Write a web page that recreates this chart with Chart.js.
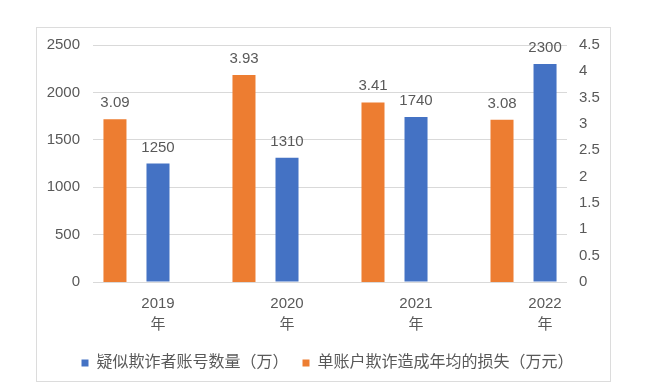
<!DOCTYPE html>
<html>
<head>
<meta charset="utf-8">
<script src="https://cdn.jsdelivr.net/npm/chart.js@4"></script>
<style>
	body { margin: 0; background: #fff; }
	#box {
		position: absolute; left: 36px; top: 27px;
		width: 575px; height: 355px;
		border: 1px solid #dcdcdc; box-sizing: border-box;
	}
</style>
</head>
<body>
<div id="box"><canvas id="fraud_chart"></canvas></div>
<script>
var years = ['2019年', '2020年', '2021年', '2022年'];
var accountCount = [1250, 1310, 1740, 2300];   // 万
var avgLoss = [3.09, 3.93, 3.41, 3.08];        // 万元
var leftTicks = [0, 500, 1000, 1500, 2000, 2500];
var rightTicks = [0, 0.5, 1, 1.5, 2, 2.5, 3, 3.5, 4, 4.5];

var FONT = "'Liberation Sans', 'Noto Sans CJK SC', sans-serif";
var TEXT_COLOR = '#595959';

Chart.defaults.font.family = FONT;
Chart.defaults.font.size = 15;
Chart.defaults.color = TEXT_COLOR;

/* value labels over the bars */
var barValueLabels = {
	id: 'barValueLabels',
	afterDatasetsDraw: function (chart) {
		var ctx = chart.ctx;
		ctx.save();
		ctx.font = '15px ' + FONT;
		ctx.fillStyle = TEXT_COLOR;
		ctx.textAlign = 'center';
		ctx.textBaseline = 'alphabetic';
		chart.data.datasets.forEach(function (ds, di) {
			var meta = chart.getDatasetMeta(di);
			meta.data.forEach(function (bar, i) {
				var v = ds.data[i].y;
				var txt = di === 0 ? v.toFixed(2) : String(v);
				ctx.fillText(txt, bar.x, bar.y - 12);
			});
		});
		ctx.restore();
	}
};

function toPoints(arr) {
	return arr.map(function (v, i) { return { x: i, y: v }; });
}

function noAxisPadding(scale) {
	scale.paddingTop = 0;
	scale.paddingBottom = 0;
}

const fraud_chart = document.getElementById('fraud_chart');

var FraudChart = new Chart(fraud_chart, {
	type: 'bar',
	data: {
		datasets: [{
			label: '单账户欺诈造成年均的损失（万元）',
			data: toPoints(avgLoss),
			yAxisID: 'y1',
			backgroundColor: '#ED7D31',
			categoryPercentage: 0.667,
			barPercentage: 0.535
		}, {
			label: '疑似欺诈者账号数量（万）',
			data: toPoints(accountCount),
			yAxisID: 'y',
			backgroundColor: '#4472C4',
			categoryPercentage: 0.667,
			barPercentage: 0.535
		}]
	},
	options: {
		responsive: true,
		maintainAspectRatio: false,
		animation: false,
		layout: {
			padding: { top: 17, right: 0, bottom: 0, left: 8 }
		},
		scales: {
			x: {
				type: 'linear',
				offset: false,
				min: -0.337,
				max: 3.337,
				grid: { display: false, drawTicks: false, offset: false },
				border: { display: false },
				afterBuildTicks: function (scale) {
					scale.ticks = years.map(function (y, i) { return { value: i }; });
				},
				afterFit: function (scale) { scale.height = 59; },
				ticks: {
					autoSkip: false,
					maxRotation: 0,
					padding: 11,
					labelOffset: 21.5,
					font: { size: 15, lineHeight: 1.4 },
					callback: function (value) {
						var t = years[value];
						return t ? [t.slice(0, 4), t.slice(4)] : '';
					}
				}
			},
			y: {
				position: 'left',
				min: 0,
				max: 2500,
				afterBuildTicks: function (scale) {
					scale.ticks = leftTicks.map(function (v) { return { value: v }; });
				},
				afterFit: function (scale) { scale.width = 48; noAxisPadding(scale); },
				grid: { color: '#d9d9d9', drawTicks: false },
				border: { display: false },
				ticks: {
					padding: 13,
					callback: function (value) { return String(value); }
				}
			},
			y1: {
				position: 'right',
				min: 0,
				max: 4.5,
				afterBuildTicks: function (scale) {
					scale.ticks = rightTicks.map(function (v) { return { value: v }; });
				},
				afterFit: function (scale) { scale.width = 43; noAxisPadding(scale); },
				grid: { display: false, drawTicks: false },
				border: { display: false },
				ticks: {
					padding: 12,
					callback: function (value) { return String(value); }
				}
			}
		},
		plugins: {
			legend: {
				position: 'bottom',
				reverse: true,
				labels: {
					boxWidth: 7,
					boxHeight: 7,
					padding: 14,
					font: { size: 16 }
				}
			},
			tooltip: { enabled: false }
		}
	},
	plugins: [barValueLabels]
});
</script>
</body>
</html>
